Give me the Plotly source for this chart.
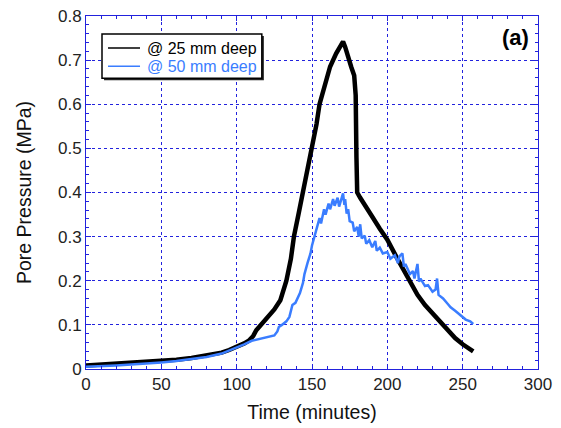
import plotly.graph_objects as go

# 25 mm deep (black)
t25 = [0, 10, 20, 30, 40, 50, 60, 70, 80, 90, 95, 100, 105, 108, 111, 113, 116, 120, 125, 129,
       133, 136, 138, 141, 144, 147, 150, 153, 155, 158, 162, 166, 169, 170.6, 172, 174,
       176, 178, 179, 179.5, 180, 182, 184, 187, 190, 195, 200, 206, 210, 215, 220, 225,
       230, 235, 240, 245, 250, 255, 257]
p25 = [0.008, 0.010, 0.012, 0.014, 0.016, 0.018, 0.021, 0.025, 0.030, 0.037, 0.043, 0.050,
       0.058, 0.064, 0.075, 0.088, 0.100, 0.115, 0.135, 0.156, 0.200, 0.250, 0.300, 0.350, 0.400,
       0.450, 0.500, 0.555, 0.600, 0.640, 0.685, 0.715, 0.735, 0.742, 0.730, 0.705, 0.685,
       0.665, 0.620, 0.480, 0.400, 0.388, 0.376, 0.360, 0.345, 0.318, 0.293, 0.254, 0.228,
       0.196, 0.168, 0.145, 0.127, 0.108, 0.088, 0.070, 0.056, 0.046, 0.040]

# 50 mm deep (blue)
t50 = [0, 10, 20, 30, 40, 50, 60, 70, 80, 90, 100, 105, 110, 115, 120, 125, 127, 128, 130,
       133, 135, 137, 139, 142, 144, 145, 147, 149, 150, 152, 153, 155, 156, 158, 159, 161,
       162, 164, 165, 167, 168, 169, 170.6, 171.5, 172, 173, 174, 175, 177, 178, 180, 181,
       182, 183, 185, 186, 188, 190, 192, 193, 195, 197, 200, 202, 205, 207, 208, 210, 211,
       212, 215, 217, 218, 220, 221, 222, 225, 227, 230, 232, 233, 234, 235, 237, 240, 242,
       245, 247, 250, 252, 255, 257]
p50 = [0.005, 0.006, 0.008, 0.010, 0.012, 0.015, 0.018, 0.022, 0.027, 0.035, 0.048, 0.056,
       0.064, 0.068, 0.071, 0.076, 0.085, 0.095, 0.100, 0.108, 0.118, 0.145, 0.150, 0.172,
       0.195, 0.215, 0.240, 0.262, 0.280, 0.305, 0.320, 0.342, 0.330, 0.362, 0.350, 0.375,
       0.362, 0.385, 0.370, 0.388, 0.368, 0.380, 0.398, 0.372, 0.385, 0.352, 0.362, 0.335,
       0.332, 0.312, 0.322, 0.300, 0.328, 0.296, 0.302, 0.284, 0.292, 0.276, 0.290, 0.268,
       0.275, 0.262, 0.265, 0.250, 0.258, 0.240, 0.255, 0.262, 0.232, 0.238, 0.215, 0.222,
       0.205, 0.238, 0.198, 0.205, 0.188, 0.190, 0.175, 0.180, 0.205, 0.168, 0.165, 0.160,
       0.148, 0.140, 0.132, 0.126, 0.118, 0.112, 0.108, 0.102]

series_names = ["@ 25 mm deep", "@ 50 mm deep"]
series_colors = ["black", "#3a7dff"]

xticks = [0, 50, 100, 150, 200, 250, 300]
yticks = [0, 0.1, 0.2, 0.3, 0.4, 0.5, 0.6, 0.7, 0.8]
yticklabels = ["0", "0.1", "0.2", "0.3", "0.4", "0.5", "0.6", "0.7", "0.8"]

BLUE_AX = "#2222dd"
font = "Liberation Sans, Arial, sans-serif"

fig = go.Figure()
fig.add_trace(go.Scatter(x=t25, y=p25, mode="lines", name=series_names[0],
                         line=dict(color=series_colors[0], width=4.5)))
fig.add_trace(go.Scatter(x=t50, y=p50, mode="lines", name=series_names[1],
                         line=dict(color=series_colors[1], width=2.5)))

axcommon = dict(showline=True, linecolor=BLUE_AX, linewidth=1, mirror="ticks",
                ticks="inside", ticklen=5, tickcolor=BLUE_AX, tickwidth=1,
                showgrid=True, gridcolor=BLUE_AX, griddash="dot", gridwidth=1,
                zeroline=False, automargin=False, ticklabeloverflow="allow",
                tickfont=dict(size=17, color="#222", family=font),
                title_font=dict(size=19.5, color="#111", family=font))

fig.update_xaxes(range=[0, 300], tickvals=xticks, title_text="Time (minutes)",
                 title_standoff=11,
                 minor=dict(dtick=10, ticks="inside", ticklen=3, tickcolor=BLUE_AX, showgrid=False),
                 **axcommon)
fig.update_yaxes(range=[0, 0.8], tickvals=yticks, ticktext=yticklabels,
                 title_text="Pore Pressure (MPa)", title_standoff=21,
                 minor=dict(dtick=0.02, ticks="inside", ticklen=3, tickcolor=BLUE_AX, showgrid=False),
                 **axcommon)

fig.add_annotation(x=0.951, y=0.938, xref="paper", yref="paper", text="<b>(a)</b>",
                   xanchor="center", yanchor="middle",
                   showarrow=False, font=dict(size=22, color="black", family=font))

# hand-drawn legend box (with small shadow), matching the reference
bx0, bx1, by0, by1 = 0.0354, 0.389, 0.824, 0.949
fig.add_shape(type="rect", xref="paper", yref="paper", x0=bx0 + 0.0045, x1=bx1 + 0.0045,
              y0=by0 - 0.006, y1=by1 - 0.006, line=dict(width=0), fillcolor="#222",
              layer="above")
fig.add_shape(type="rect", xref="paper", yref="paper", x0=bx0, x1=bx1, y0=by0, y1=by1,
              line=dict(width=1.5, color="black"), fillcolor="white", layer="above")
rows_y = [0.909, 0.858]
for name, color, ry in zip(series_names, series_colors, rows_y):
    fig.add_shape(type="line", xref="paper", yref="paper", x0=0.0487, x1=0.1195, y0=ry, y1=ry,
                  line=dict(color=color, width=1.5), layer="above")
    fig.add_annotation(x=0.1305, y=ry, xref="paper", yref="paper", text=name,
                       xanchor="left", yanchor="middle", showarrow=False,
                       font=dict(size=16, color=color, family=font))

fig.update_layout(width=553, height=420, margin=dict(l=78, r=23, t=8, b=59),
                  plot_bgcolor="white", paper_bgcolor="white",
                  font=dict(family=font, size=15, color="black"),
                  showlegend=False)

fig.write_html("out.html")
